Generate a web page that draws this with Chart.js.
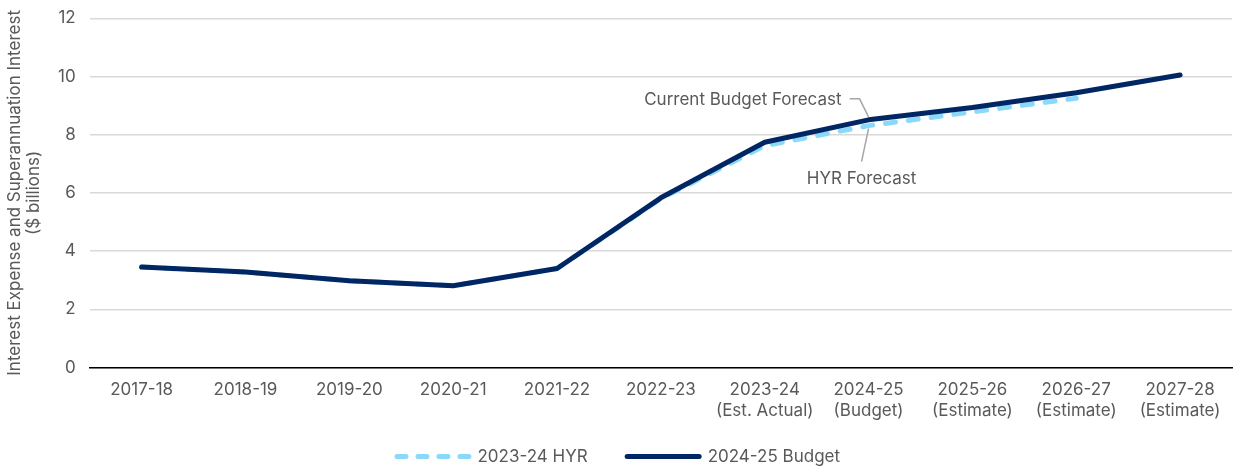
<!DOCTYPE html>
<html>
<head>
<meta charset="utf-8">
<script src="https://cdn.jsdelivr.net/npm/chart.js@4"></script>
<style>
  html, body { margin: 0; padding: 0; background: #fff; }
  #wrap { width: 1233px; height: 473px; position: relative; }
</style>
</head>
<body>
<div id="wrap"><canvas id="chart"></canvas></div>
<script>
// ===============================
// DATA
// ===============================
const years = [
  "2017-18", "2018-19", "2019-20", "2020-21", "2021-22", "2022-23",
  ["2023-24", "(Est. Actual)"], ["2024-25", "(Budget)"], ["2025-26", "(Estimate)"],
  ["2026-27", "(Estimate)"], ["2027-28", "(Estimate)"]
];
const hyr2324 = [3.45, 3.28, 2.98, 2.81, 3.40, 5.80, 7.62, 8.31, 8.78, 9.25, null];
const budget2425 = [3.45, 3.28, 2.98, 2.81, 3.40, 5.83, 7.74, 8.51, 8.93, 9.44, 10.05];
const yTicks = [0, 2, 4, 6, 8, 10, 12];

const FONT = "Inter, 'Noto Sans', sans-serif";
const FONT_SIZE = 17;
const GREY_TEXT = "#595959";

// ===============================
// ANNOTATIONS (leader lines)
// ===============================
const forecastNotes = {
  id: "forecastNotes",
  afterDatasetsDraw(chart) {
    const { ctx, scales } = chart;
    const x = scales.x.getPixelForValue(7);
    const yBud = scales.y.getPixelForValue(budget2425[7]);
    const yHyr = scales.y.getPixelForValue(hyr2324[7]);

    ctx.save();
    ctx.strokeStyle = "#a6a6a6";
    ctx.lineWidth = 1.5;

    // Current Budget Forecast
    ctx.beginPath();
    ctx.moveTo(x - 19, yBud - 21);
    ctx.lineTo(x - 9, yBud - 21);
    ctx.lineTo(x, yBud - 3);
    ctx.stroke();

    // HYR Forecast
    ctx.beginPath();
    ctx.moveTo(x, yHyr + 3);
    ctx.lineTo(x - 7, yHyr + 36);
    ctx.stroke();

    ctx.fillStyle = GREY_TEXT;
    ctx.font = FONT_SIZE + "px " + FONT;
    ctx.textBaseline = "middle";
    ctx.textAlign = "right";
    ctx.fillText("Current Budget Forecast", x - 27, yBud - 20);
    ctx.textAlign = "center";
    ctx.fillText("HYR Forecast", x - 7, yHyr + 53);
    ctx.restore();
  }
};

new Chart(document.getElementById("chart"), {
  type: "line",
  data: {
    labels: years,
    datasets: [
      {
        label: "2024-25 Budget",
        data: budget2425,
        borderColor: "#002664",
        backgroundColor: "#002664",
        borderWidth: 5,
        borderCapStyle: "round",
        borderJoinStyle: "round",
        pointRadius: 0,
        tension: 0,
        order: 1
      },
      {
        label: "2023-24 HYR",
        data: hyr2324,
        borderColor: "#8ad9fb",
        backgroundColor: "#8ad9fb",
        borderWidth: 5,
        borderDash: [10, 13],
        borderCapStyle: "round",
        pointRadius: 0,
        tension: 0,
        order: 2
      }
    ]
  },
  options: {
    responsive: true,
    maintainAspectRatio: false,
    animation: false,
    layout: { padding: { top: 6, right: 1, left: 5, bottom: -2 } },
    plugins: {
      tooltip: { enabled: false },
      legend: {
        position: "bottom",
        reverse: true,
        labels: {
          usePointStyle: true,
          pointStyle: "line",
          pointStyleWidth: 72,
          boxHeight: 5,
          padding: 14,
          color: GREY_TEXT,
          font: { family: FONT, size: FONT_SIZE },
          generateLabels(chart) {
            const items = Chart.defaults.plugins.legend.labels.generateLabels(chart);
            items.forEach(it => {
              const ds = chart.data.datasets[it.datasetIndex];
              it.lineWidth = 5;
              it.lineCap = "round";
              it.lineDash = ds.borderDash ? [9, 12] : [];
              it.strokeStyle = ds.borderColor;
              it.pointStyle = "line";
              // extra gap after the first legend entry
              if (ds.borderDash) it.text = it.text + "\u2003\u2002";
            });
            return items;
          }
        }
      }
    },
    scales: {
      x: {
        offset: true,
        grid: { display: false, drawTicks: false },
        border: { color: "#000", width: 1.5 },
        ticks: {
          color: GREY_TEXT,
          font: { family: FONT, size: FONT_SIZE, lineHeight: 1.25 },
          maxRotation: 0,
          autoSkip: false,
          padding: 12
        }
      },
      y: {
        min: 0,
        max: 12,
        afterBuildTicks(axis) { axis.ticks = yTicks.map(v => ({ value: v })); },
        grid: { color: "#d9d9d9", lineWidth: 1.5, drawTicks: false },
        border: { display: false },
        ticks: {
          color: GREY_TEXT,
          font: { family: FONT, size: FONT_SIZE, lineHeight: 0.5 },
          padding: 14
        },
        title: {
          display: true,
          text: ["Interest Expense and Superannuation Interest", "($ billions)"],
          color: GREY_TEXT,
          font: { family: FONT, size: FONT_SIZE, lineHeight: 1.15 },
          padding: { top: 0, bottom: 0 }
        }
      }
    }
  },
  plugins: [forecastNotes]
});
</script>
</body>
</html>
